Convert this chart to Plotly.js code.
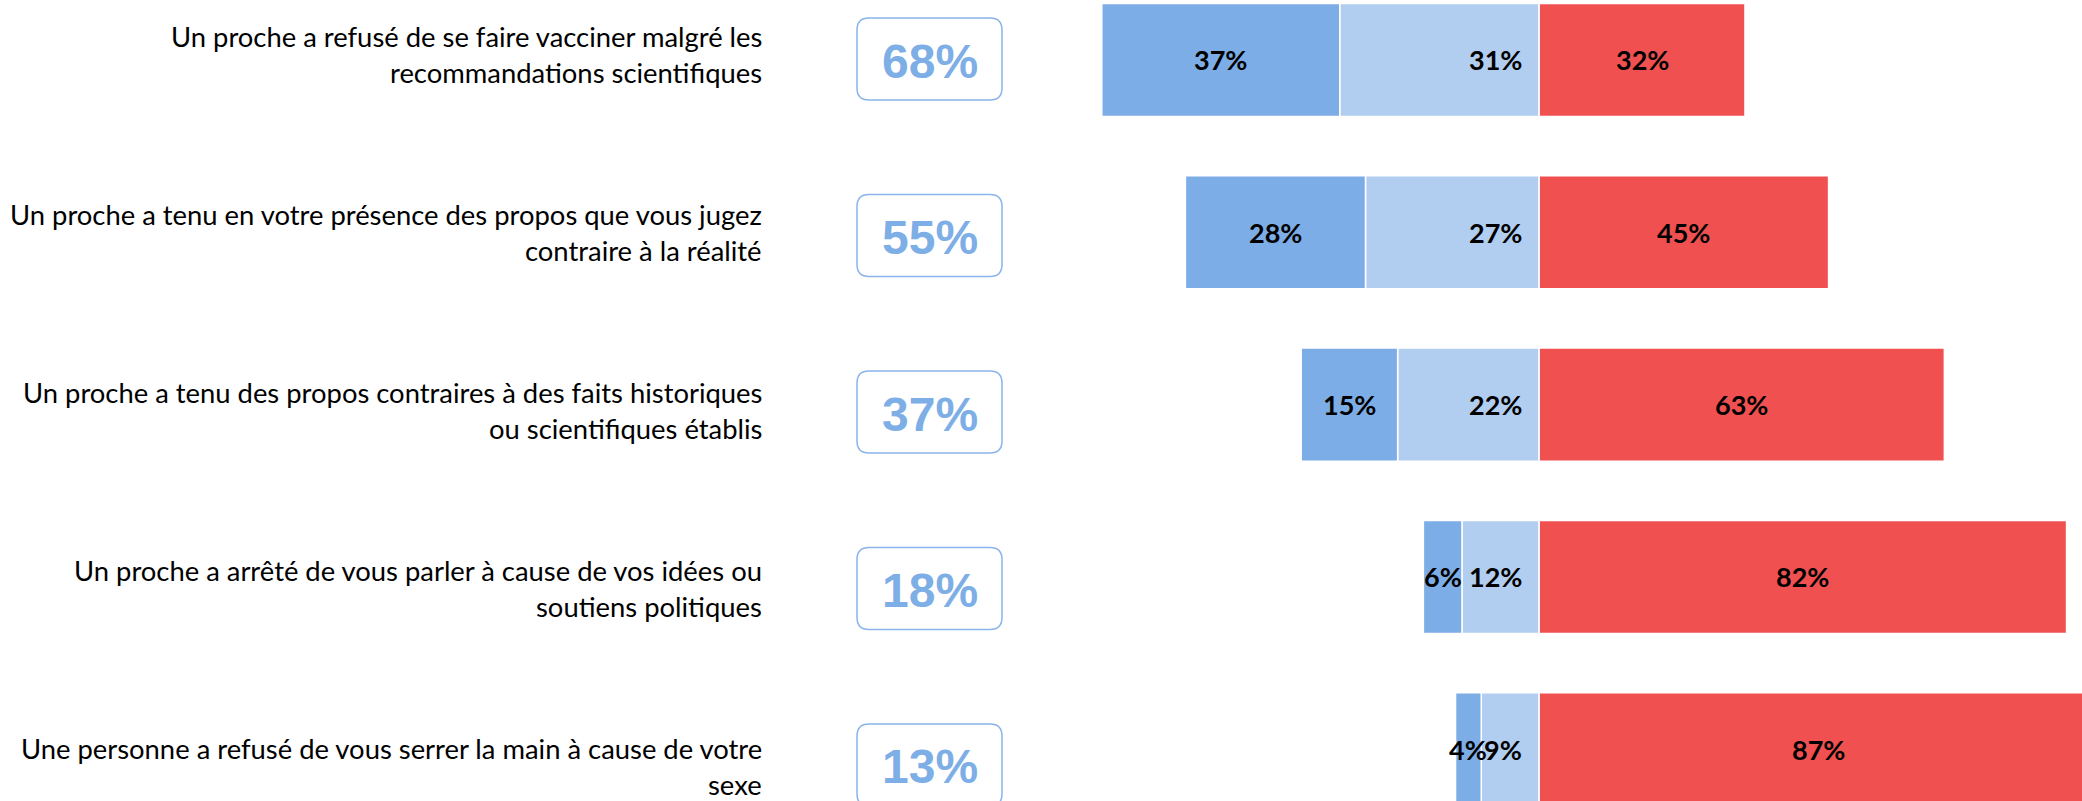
<!DOCTYPE html>
<html>
<head>
<meta charset="utf-8">
<script src="https://cdn.plot.ly/plotly-3.0.1.min.js"></script>
<style>
  html, body { margin: 0; padding: 0; background: #ffffff; }
  #chart { width: 2082px; height: 801px; }
</style>
</head>
<body>
<div id="chart"></div>
<script>
// ---- Data ----
const categories = [
  "Un proche a refusé de se faire vacciner malgré les<br>recommandations scientifiques",
  "Un proche a tenu en votre présence des propos que vous jugez<br>contraire à la réalité",
  "Un proche a tenu des propos contraires à des faits historiques<br>ou scientifiques établis",
  "Un proche a arrêté de vous parler à cause de vos idées ou<br>soutiens politiques",
  "Une personne a refusé de vous serrer la main à cause de votre<br>sexe"
];
const oftenValues = [37, 28, 15, 6, 4];      // dark blue
const sometimesValues = [31, 27, 22, 12, 9]; // light blue
const neverValues = [32, 45, 63, 82, 87];    // red
const totalValues = [68, 55, 37, 18, 13];    // boxed totals

// ---- Styles ----
const COLOR_DARK = "#7DADE6";
const COLOR_LIGHT = "#B1CEF1";
const COLOR_RED = "#F05050";
const COLOR_BOX_TEXT = "#7EAEE6";
const COLOR_BOX_LINE = "#8AB4EA";
const LABEL_FONT = "Lato, 'Noto Sans', sans-serif";
const BAR_FONT = "Lato, 'Noto Sans', sans-serif";
const BOX_FONT = "'Liberation Sans', Arial, sans-serif";

const barLine = { color: "#ffffff", width: 1.5 };

const traces = [
  {
    type: "bar", orientation: "h", name: "light",
    y: categories, x: sometimesValues.map(v => -v),
    marker: { color: COLOR_LIGHT, line: barLine },
    hoverinfo: "skip", showlegend: false
  },
  {
    type: "bar", orientation: "h", name: "dark",
    y: categories, x: oftenValues.map(v => -v),
    marker: { color: COLOR_DARK, line: barLine },
    hoverinfo: "skip", showlegend: false
  },
  {
    type: "bar", orientation: "h", name: "red",
    y: categories, x: neverValues,
    marker: { color: COLOR_RED, line: barLine },
    hoverinfo: "skip", showlegend: false
  },
  {
    // anchor trace for the hidden label axis
    type: "scatter", mode: "markers", x: [0], y: [0], yaxis: "y2",
    marker: { opacity: 0 }, hoverinfo: "skip", showlegend: false
  },
  {
    // anchor trace for the hidden box axis
    type: "scatter", mode: "markers", x: [0], y: [0], yaxis: "y3",
    marker: { opacity: 0 }, hoverinfo: "skip", showlegend: false
  }
];

const annotations = [];
const shapes = [];
const barFont = { family: BAR_FONT, size: 27, color: "#000000" };

categories.forEach((cat, i) => {
  // dark blue segment label (centred)
  annotations.push({
    xref: "x", yref: "y", x: -(sometimesValues[i] + oftenValues[i] / 2), y: cat,
    text: "<b>" + oftenValues[i] + "%</b>", showarrow: false, font: barFont
  });
  // light blue segment label (right aligned near zero)
  annotations.push({
    xref: "x", yref: "y", x: 0, y: cat, xanchor: "right", xshift: -15,
    text: "<b>" + sometimesValues[i] + "%</b>", showarrow: false, font: barFont
  });
  // red segment label (centred)
  annotations.push({
    xref: "x", yref: "y", x: neverValues[i] / 2, y: cat,
    text: "<b>" + neverValues[i] + "%</b>", showarrow: false, font: barFont
  });

  // left category text, one annotation per line
  const lines = cat.split("<br>");
  lines.forEach((ln, j) => {
    annotations.push({
      xref: "paper", yref: "y2", x: 764 / 2082, y: i, xanchor: "right",
      yshift: ((lines.length - 1) / 2 - j) * 36,
      text: ln, showarrow: false,
      font: { family: LABEL_FONT, size: 27.4, color: "#000000" }
    });
  });

  // boxed total
  annotations.push({
    xref: "paper", yref: "y3", x: 929.5 / 2082, y: i, yshift: -2,
    text: "<b>" + totalValues[i] + "%</b>", showarrow: false,
    font: { family: BOX_FONT, size: 48, color: COLOR_BOX_TEXT }
  });
  const w = 72.5, h = 41, r = 12;
  shapes.push({
    type: "path", xref: "paper", yref: "y3",
    xsizemode: "pixel", ysizemode: "pixel",
    xanchor: 929.5 / 2082, yanchor: i,
    path: `M ${-w + r},${-h} L ${w - r},${-h} Q ${w},${-h} ${w},${-h + r} L ${w},${h - r} Q ${w},${h} ${w - r},${h} L ${-w + r},${h} Q ${-w},${h} ${-w},${h - r} L ${-w},${-h + r} Q ${-w},${-h} ${-w + r},${-h} Z`,
    line: { color: COLOR_BOX_LINE, width: 1.5 },
    fillcolor: "rgba(255,255,255,0)"
  });
});

const layout = {
  width: 2082, height: 801,
  margin: { l: 0, r: 0, t: 0, b: 0, pad: 0 },
  paper_bgcolor: "#ffffff", plot_bgcolor: "#ffffff",
  barmode: "relative",
  bargap: 0.344,
  showlegend: false,
  xaxis: {
    range: [-239.3, 84.4], visible: false, fixedrange: true, zeroline: false
  },
  yaxis: {
    type: "category", categoryorder: "array", categoryarray: categories,
    range: [4.30, -0.348], visible: false, fixedrange: true
  },
  yaxis2: {
    overlaying: "y", range: [4.1966, -0.3034], visible: false, fixedrange: true
  },
  yaxis3: {
    overlaying: "y", range: [4.204, -0.3343], visible: false, fixedrange: true
  },
  annotations: annotations,
  shapes: shapes
};

Plotly.newPlot("chart", traces, layout, { staticPlot: true, displayModeBar: false });
</script>
</body>
</html>
